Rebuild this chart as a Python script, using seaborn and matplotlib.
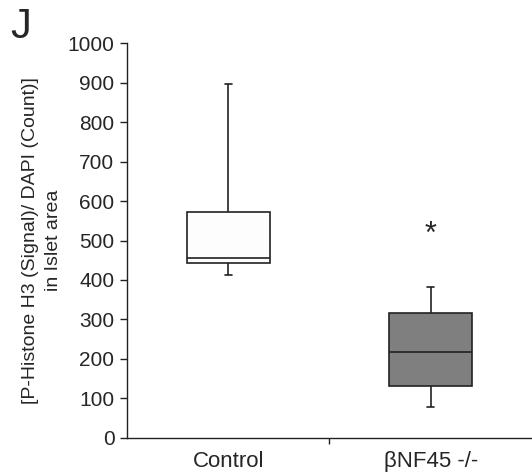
import matplotlib
matplotlib.use("Agg")
import matplotlib.pyplot as plt
import seaborn as sns
import pandas as pd

# Box statistics (min, q1, median, q3, max)
control_vals = [412, 442, 456, 573, 897]
knockout_vals = [77, 131, 217, 315, 383]
categories = ["Control", "\u03b2NF45 -/-"]
star_y = 514
y_ticks = [0, 100, 200, 300, 400, 500, 600, 700, 800, 900, 1000]

df = pd.DataFrame({
    "group": [categories[0]] * len(control_vals) + [categories[1]] * len(knockout_vals),
    "value": control_vals + knockout_vals,
})

sns.set_style("white")
plt.rcParams["font.family"] = ["Liberation Sans", "DejaVu Sans"]

fig = plt.figure(figsize=(5.32, 4.72), dpi=100)
ax = fig.add_axes([0.2387, 0.0727, 0.7613, 0.8353])

sns.boxplot(data=df, x="group", y="value", hue="group", order=categories,
            palette={categories[0]: "#fdfdfd", categories[1]: "#7f7f7f"},
            width=0.41, whis=(0, 100), linewidth=1.2, linecolor="#222222",
            showfliers=False, legend=False, ax=ax, capwidths=0.035)

ax.set_xlim(-0.5, 1.5)
ax.set_ylim(0, 1000)
ax.set_yticks(y_ticks)
ax.set_yticklabels([str(t) for t in y_ticks], fontsize=15)
ax.set_xticks([0.5])
ax.set_xticklabels([""])
for i, c in enumerate(categories):
    ax.text(i, -0.033, c, transform=ax.get_xaxis_transform(), ha="center", va="top", fontsize=16)
ax.set_xlabel("")
ax.set_ylabel("[P-Histone H3 (Signal)/ DAPI (Count)]\nin Islet area", fontsize=14,
              labelpad=4, linespacing=1.5)
ax.tick_params(axis="y", direction="out", length=5, width=1, color="#222222", left=True, pad=4)
ax.tick_params(axis="x", direction="out", length=4, width=1, color="#222222", bottom=True)
for s in ["top", "right"]:
    ax.spines[s].set_visible(False)
for s in ["left", "bottom"]:
    ax.spines[s].set_color("#222222")
    ax.spines[s].set_linewidth(1.0)

ax.text(1, star_y, "*", ha="center", va="center", fontsize=22)
fig.text(0.02, 0.985, "J", ha="left", va="top", fontsize=30)

fig.savefig("out.png", dpi=100)
